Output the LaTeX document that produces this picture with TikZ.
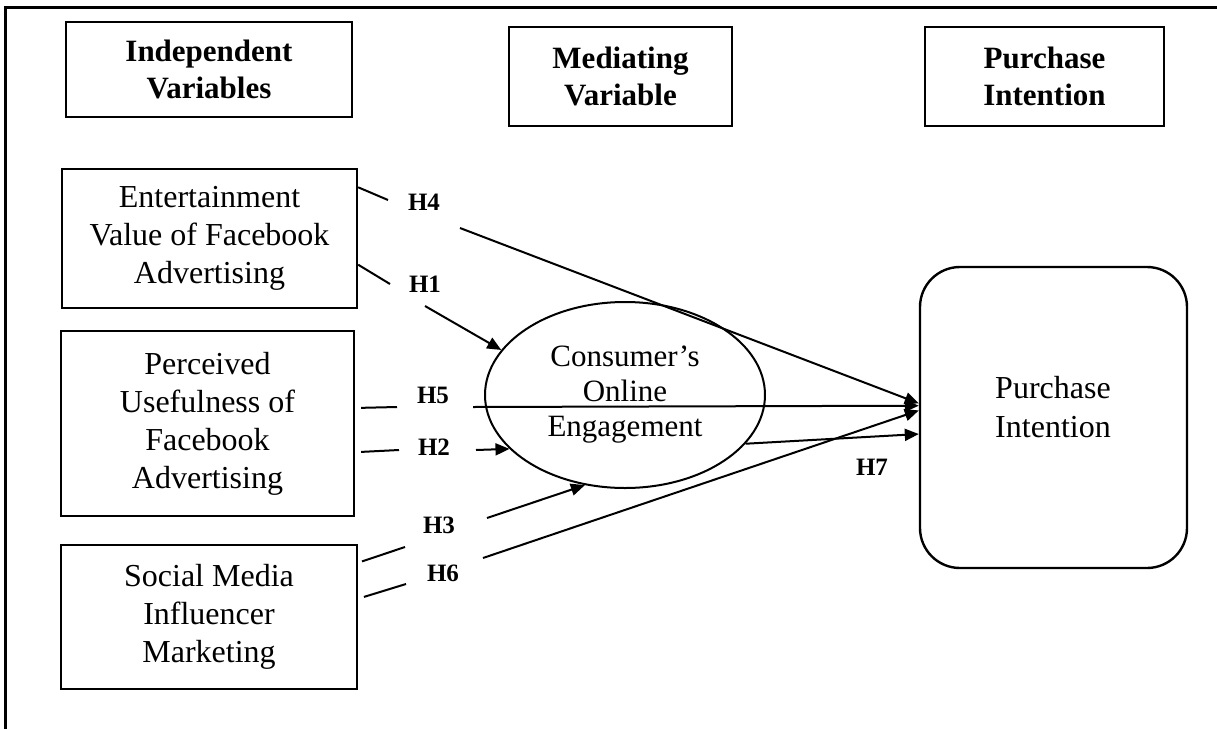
\documentclass[tikz,border=0pt]{standalone}
\usepackage{fontspec}
\setmainfont{Liberation Serif}
\usetikzlibrary{arrows.meta,shapes.geometric}

\tikzset{
  varbox/.style={draw,line width=1.2pt,align=center,inner sep=0pt,font=\fontsize{16}{19}\selectfont},
  headbox/.style={varbox,font=\fontsize{15.5}{18.5}\selectfont\bfseries},
  hyp/.style={font=\fontsize{12.5}{14}\selectfont\bfseries,inner sep=0pt},
  link/.style={line width=1pt},
  arrow/.style={link,-{Triangle[length=7pt,width=6pt]}},
}

\begin{document}
\begin{tikzpicture}[x=0.5pt,y=-0.5pt]
  \useasboundingbox (0,0) rectangle (1217,729);
  % frame
  \draw[line width=1.5pt] (5,729) -- (5,7) -- (1217,7);

  % column headers
  \node[headbox,minimum width=143pt,minimum height=47.5pt] (indep) at (209,69.5) {Independent\\Variables};
  \node[headbox,minimum width=111.5pt,minimum height=49.5pt] (mediat) at (620.5,76.5) {Mediating\\Variable};
  \node[headbox,minimum width=119.5pt,minimum height=49.5pt] (purch) at (1044.5,76.5) {Purchase\\Intention};

  % variables
  \node[varbox,minimum width=147.5pt,minimum height=69.5pt] (ent) at (209.5,238.5) {Entertainment\\Value of Facebook\\Advertising};
  \node[varbox,minimum width=146.5pt,minimum height=92.5pt] (perc) at (207.5,423.5) {Perceived\\Usefulness of\\Facebook\\Advertising};
  \node[varbox,minimum width=148pt,minimum height=72pt] (smi) at (209,617) {Social Media\\Influencer\\Marketing};
  \node[varbox,ellipse,line width=1pt,minimum width=140pt,minimum height=93pt,font=\fontsize{15.5}{17.5}\selectfont] (coe) at (625,395) {Consumer's\\Online\\Engagement};
  \node[varbox,rounded corners=20pt,minimum width=133.5pt,minimum height=150.5pt] (pi) at (1053.5,417.5) {};
  \node[align=center,font=\fontsize{16}{19.5}\selectfont] (pitext) at (1053,407) {Purchase\\Intention};

  % H4
  \coordinate (h4a) at (388,200);
  \coordinate (h4b) at (460,228);
  \node[hyp] (h4) at (424,202) {H4};
  \draw[link] (ent.19) -- (h4a);
  \draw[arrow] (h4b) -- (pi.174.2);

  % H1
  \coordinate (h1a) at (390,284);
  \coordinate (h1b) at (425,306);
  \node[hyp] (h1) at (425,284) {H1};
  \draw[link] (ent.350) -- (h1a);
  \draw[arrow] (h1b) -- (coe.160.7);

  % H5
  \coordinate (h5a) at (397,407);
  \coordinate (h5b) at (473,407);
  \node[hyp] (h5) at (433,395) {H5};
  \draw[link,shorten <=3pt] (perc.6.4) -- (h5a);
  \draw[arrow] (h5b) -- (pi.175.5);

  % H2
  \coordinate (h2a) at (399,450);
  \coordinate (h2b) at (476,450);
  \node[hyp] (h2) at (434,447) {H2};
  \draw[link,shorten <=3pt] (perc.349.75) -- (h2a);
  \draw[arrow] (h2b) -- (coe.205.2);

  % H3
  \coordinate (h3a) at (405,547);
  \coordinate (h3b) at (487,518);
  \node[hyp] (h3) at (439,525) {H3};
  \draw[link,shorten <=2pt] (smi.20.7) -- (h3a);
  \draw[arrow] (h3b) -- (coe.246.5);

  % H6
  \coordinate (h6a) at (406,584);
  \coordinate (h6b) at (483,558);
  \node[hyp] (h6) at (443,573) {H6};
  \draw[link,shorten <=3pt] (smi.7.3) -- (h6a);
  \draw[arrow] (h6b) -- (pi.177);

  % H7
  \node[hyp] (h7) at (872,467) {H7};
  \draw[arrow] (coe.338.5) -- (pi.187.5);
\end{tikzpicture}
\end{document}
